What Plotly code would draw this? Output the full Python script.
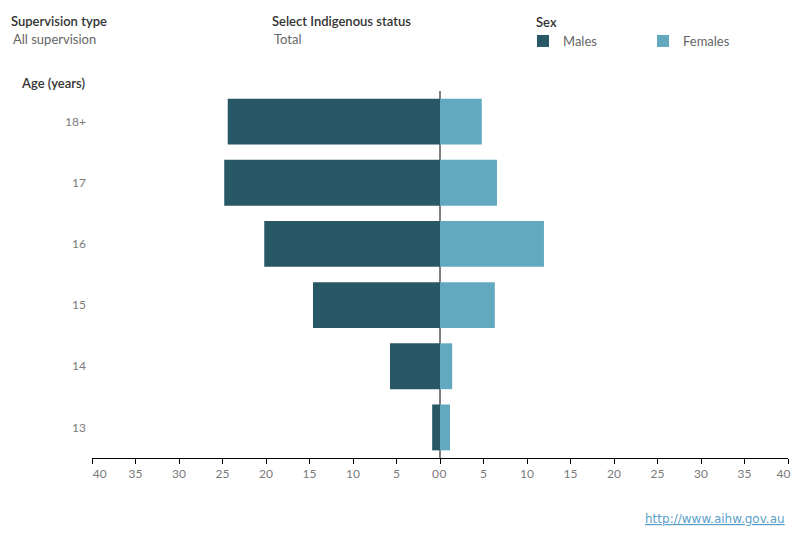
import plotly.graph_objects as go

ages = ["13", "14", "15", "16", "17", "18+"]
males = [0.9, 5.75, 14.6, 20.2, 24.8, 24.4]
females = [1.15, 1.4, 6.3, 11.95, 6.55, 4.8]

tick_vals = [0, 5, 10, 15, 20, 25, 30, 35, 40]
left_tick_text = ["0\u00a0\u00a0\u00a0", "5", "10", "15", "20", "25", "30", "35", "\u00a0\u00a0\u00a0\u00a0\u00a040"]
right_tick_text = ["\u00a0\u00a00", "5", "10", "15", "20", "25", "30", "35", "40\u00a0\u00a0\u00a0"]

MALE = "#285766"
FEMALE = "#62a9c0"
FONT = "Lato"
TICK_COLOR = "#7a7a7a"

fig = go.Figure()
fig.add_trace(go.Bar(
    y=ages, x=males, name="Males", orientation="h",
    marker=dict(color=MALE, line=dict(width=0)),
    xaxis="x", yaxis="y", width=0.75,
    hovertemplate="Males, age %{y}: %{x}<extra></extra>",
))
fig.add_trace(go.Bar(
    y=ages, x=females, name="Females", orientation="h",
    marker=dict(color=FEMALE, line=dict(width=0)),
    xaxis="x2", yaxis="y", width=0.75,
    hovertemplate="Females, age %{y}: %{x}<extra></extra>",
))

axis_common = dict(
    showgrid=False, zeroline=False, showline=True, linecolor="black", linewidth=1,
    ticks="outside", ticklen=5, tickcolor="black", tickwidth=1,
    tickvals=tick_vals, tickfont=dict(family=FONT, size=12, color=TICK_COLOR),
    ticklabeloverflow="allow", fixedrange=True,
)

fig.update_layout(
    width=800, height=550,
    margin=dict(l=92, r=12, t=91, b=92, autoexpand=False),
    paper_bgcolor="white", plot_bgcolor="white",
    bargap=0.25,
    xaxis=dict(domain=[0, 0.5], range=[40, 0], ticktext=left_tick_text, anchor="y", **axis_common),
    xaxis2=dict(domain=[0.5, 1], range=[0, 40], ticktext=right_tick_text, anchor="y", **axis_common),
    yaxis=dict(
        categoryorder="array", categoryarray=ages, range=[-0.5, 5.5],
        showgrid=False, zeroline=False, showline=False, ticks="",
        tickfont=dict(family=FONT, size=12, color=TICK_COLOR), ticklabelstandoff=5,
        fixedrange=True,
    ),
    showlegend=True,
    legend=dict(
        orientation="h", xref="container", yref="container",
        x=523 / 800, y=1 - 41 / 550, xanchor="left", yanchor="middle",
        entrywidth=75, entrywidthmode="pixels",
        font=dict(family=FONT, size=13, color="#666666"),
        itemclick=False, itemdoubleclick=False,
    ),
    shapes=[dict(
        type="line", xref="paper", yref="paper", x0=0.5, x1=0.5, y0=0, y1=1,
        line=dict(color="black", width=1), layer="below",
    )],
)

def ann(text, x, y, color, size=13, weight="normal", fam=FONT):
    fig.add_annotation(
        text=text, xref="paper", yref="paper",
        x=(x - 92) / 696, y=(458 - y) / 367,
        xanchor="left", yanchor="middle", showarrow=False,
        font=dict(family=fam, size=size, color=color, weight=weight),
    )

ann("Supervision type", 9, 21, "#333333", weight=600)
ann("All supervision", 11, 39, "#666666")
ann("Select Indigenous status", 270, 21, "#333333", weight=600)
ann("Total", 272, 39, "#666666")
ann("Sex", 534, 22, "#333333", weight=600)
ann("Age (years)", 19, 83, "#333333", weight=600)
ann("<a href='http://www.aihw.gov.au' style='color:#5b9fc9'><span style='text-decoration:underline'>http://www.aihw.gov.au</span></a>",
    643, 519, "#5b9fc9", size=12, fam="DejaVu Sans")

fig.write_html("out.html")
